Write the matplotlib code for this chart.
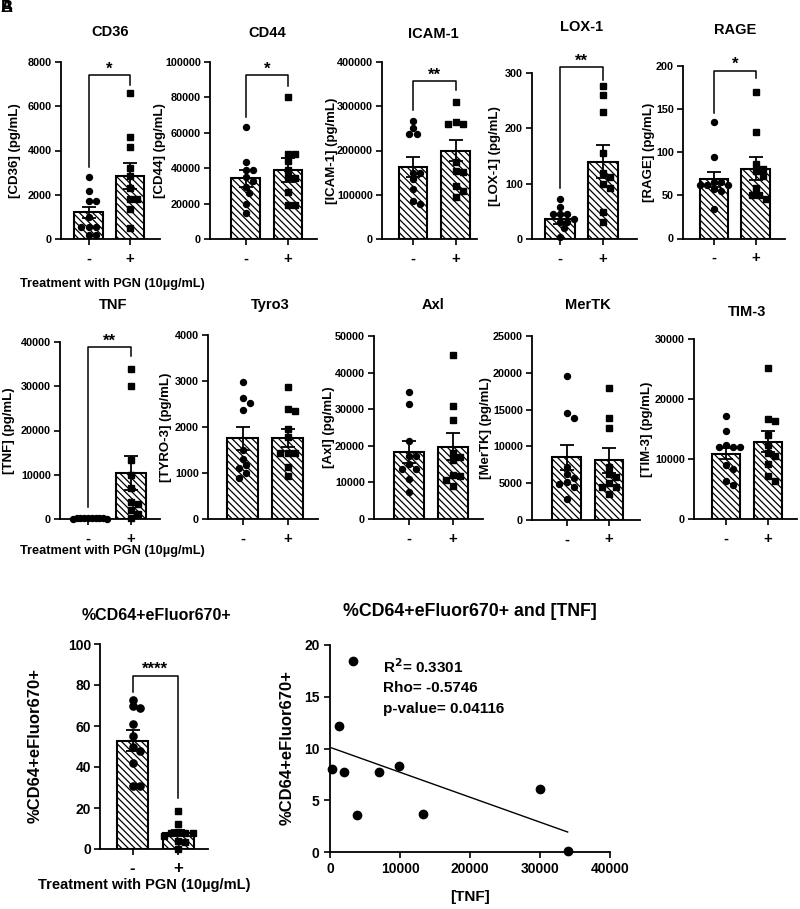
import numpy as np
import matplotlib
matplotlib.use('Agg')
import matplotlib.pyplot as plt

plt.rcParams['font.family'] = ['Liberation Sans Narrow', 'Liberation Sans', 'DejaVu Sans']
plt.rcParams['font.weight'] = 'bold'
plt.rcParams['hatch.linewidth'] = 0.9
plt.rcParams['axes.linewidth'] = 1.3

# ---- data ----
titles = ['CD36', 'CD44', 'ICAM-1', 'LOX-1', 'RAGE', 'TNF', 'Tyro3', 'Axl', 'MerTK', 'TIM-3']
ylabels = ['[CD36] (pg/mL)', '[CD44] (pg/mL)', '[ICAM-1] (pg/mL)', '[LOX-1] (pg/mL)', '[RAGE] (pg/mL)',
           '[TNF] (pg/mL)', '[TYRO-3] (pg/mL)', '[Axl] (pg/mL)', '[MerTK] (pg/mL)', '[TIM-3] (pg/mL)']
ymax = [8000, 100000, 400000, 300, 200, 40000, 4000, 50000, 25000, 30000]
ystep = [2000, 20000, 100000, 100, 50, 10000, 1000, 10000, 5000, 10000]

mean_neg = [1200, 34300, 163000, 36, 68.5, 150, 1754, 18300, 8500, 10900]
mean_pos = [2860, 39000, 200000, 140, 81, 10400, 1770, 19700, 8100, 12900]
sem_neg = [260, 4700, 23000, 9, 8.5, 30, 250, 3000, 1700, 900]
sem_pos = [580, 6600, 24000, 29, 13, 3850, 195, 3700, 1650, 1800]

tnf_pgn = [240, 1240, 1950, 3290, 3860, 7000, 9860, 13290, 30050, 33950]
cd64_pgn = [8.0, 12.2, 7.7, 18.5, 3.6, 7.7, 8.3, 3.7, 6.1, 0.1]

pts_neg = [
    [2790, 2170, 1730, 1730, 1000, 520, 520, 520, 200, 200],
    [63500, 43700, 39000, 39000, 35000, 29600, 26000, 20000, 14500, 33000],
    [267000, 250000, 237000, 237000, 150000, 150000, 135000, 114000, 87000, 79000],
    [72, 58, 45, 45, 45, 37, 30, 30, 19, 4],
    [135, 95, 65, 62, 62, 57, 55, 62, 34, 65],
    [200, 150, 120, 180, 100, 250, 160, 130, 90, 210],
    [2985, 2620, 2530, 2370, 1500, 1300, 1170, 1100, 990, 900],
    [34600, 31500, 21300, 17200, 17200, 15000, 13600, 13600, 11000, 7400],
    [19500, 14500, 13900, 7200, 6300, 5700, 5100, 4900, 4500, 2900],
    [17200, 14700, 12000, 12000, 12000, 12400, 9000, 8300, 6400, 5700],
]
pts_pos = [
    [6580, 4620, 4170, 3220, 2860, 2290, 1800, 1800, 1360, 510],
    [80400, 47800, 47800, 44000, 39000, 34300, 26700, 19200, 19200, 35000],
    [310000, 265000, 259000, 259000, 175000, 154000, 152000, 120000, 108000, 96000],
    [276, 260, 229, 155, 119, 112, 92, 49, 31, 100],
    [170, 124, 86, 81, 73, 58, 51, 46, 50, 78],
    tnf_pgn,
    [2860, 2400, 2350, 1950, 1775, 1440, 1440, 1440, 1140, 935],
    [44800, 30800, 27000, 17900, 17000, 16000, 11800, 10700, 8900, 12000],
    [18000, 13900, 12500, 7200, 6300, 5900, 4500, 4500, 3500, 5000],
    [25200, 16400, 16700, 14000, 12400, 11000, 9200, 6400, 7100, 10500],
]

sig_text = ['*', '*', '**', '**', '*', '**', '', '', '', '']
sig_top = [7400, 92700, 357000, 311, 194.6, 38800, 0, 0, 0, 0]
sig_left = [3270, 69000, 291000, 92, 145, 2800, 0, 0, 0, 0]
sig_right = [6960, 86600, 337000, 287, 186, 36800, 0, 0, 0, 0]

cd64_neg = [72.8, 69.6, 68.8, 61.1, 55, 50, 48, 42, 30.6, 30.6]
cd64_mean = [52.8, 7.8]
cd64_sem = [5.1, 1.7]

stats_lines = ['R$^\\mathbf{2}$= 0.3301', 'Rho= -0.5746', 'p-value= 0.04116']
treat_label = 'Treatment with PGN (10\u00b5g/mL)'

# ---- layout in pixels: spine x, bar0 x, bar1 x, axis end x, top y, bottom y, title x, title y, ylabel x
layout = [
    (61, 88.5, 130, 160, 62, 239, 110, 32, 15),
    (210, 245.5, 288, 317, 62, 239, 267, 33, 160),
    (382, 413, 455.5, 477, 62, 239, 433, 34, 332),
    (532, 560, 603, 637, 73, 239, 582, 27, 495),
    (683, 714, 755.5, 785, 66, 238.5, 735, 30, 649),
    (60, 88, 131, 160, 342, 519, 113, 305, 9),
    (208, 242.5, 287.5, 318, 335, 519, 270, 305, 166),
    (374, 409, 453, 483, 336, 519, 433, 305, 329),
    (532, 566.5, 609, 640, 336, 520, 588, 305, 486),
    (694, 726, 768, 797, 339, 519, 747, 312, 647),
]

W, H = 800, 909
fig = plt.figure(figsize=(8, 9.09), dpi=100)
HATCH = '\\' * 5


def swarm(vals, px_per_unit, d=6.5, lim=19):
    ys = np.asarray(vals, float) * px_per_unit
    xs = np.zeros(len(ys))
    done = []
    for i in np.argsort(-ys):
        c = 0.0
        for k in range(60):
            c = ((k + 1) // 2) * (1 if k % 2 else -1) * d * 0.55
            if all(np.hypot(c - xs[j], ys[i] - ys[j]) >= d for j in done):
                break
        xs[i] = c
        done.append(i)
    m = np.abs(xs).max()
    if m > lim:
        xs *= lim / m
    return xs


def bar_panel(spine, b0, b1, end, top, bottom, ymx, step, means, sems, neg, pos,
              tick_fs=7.8, ms=4.3, bar_w=0.68):
    ax = fig.add_axes([spine / W, 1 - bottom / H, (end - spine) / W, (bottom - top) / H])
    sp = b1 - b0
    ax.set_xlim((spine - b0) / sp, (end - b0) / sp)
    ax.set_ylim(0, ymx)
    ax.bar([0, 1], means, width=bar_w, color='white', edgecolor='black',
           hatch=HATCH, linewidth=1.5, zorder=2)
    ax.errorbar([0, 1], means, yerr=sems, fmt='none', ecolor='black',
                elinewidth=1.3, capsize=5, capthick=1.3, zorder=3)
    ppu = (bottom - top) / ymx
    ax.plot(swarm(neg, ppu) / sp, neg, 'o', ms=ms, color='black', zorder=4, clip_on=False)
    ax.plot(1 + swarm(pos, ppu) / sp, pos, 's', ms=ms * 0.9, color='black', zorder=4, clip_on=False)
    ticks = np.arange(0, ymx + step / 2, step)
    ax.set_yticks(ticks)
    ax.set_yticklabels(['%d' % t for t in ticks])
    ax.set_xticks([0, 1])
    ax.set_xticklabels(['-', '+'])
    ax.spines['top'].set_visible(False)
    ax.spines['right'].set_visible(False)
    ax.tick_params(axis='both', direction='out', length=4, width=1.2, labelsize=tick_fs, pad=2.5)
    ax.tick_params(axis='x', labelsize=tick_fs + 3, pad=5)
    return ax


def bracket(ax, text, top, left, right, fs=12):
    ax.plot([0, 0, 1, 1], [left, top, top, right], color='black', lw=1.1, clip_on=False, zorder=5)
    ax.annotate(text, (0.5, top), xytext=(0, -1), textcoords='offset points',
                ha='center', va='bottom', fontsize=fs, annotation_clip=False)


for i in range(10):
    spine, b0, b1, end, top, bottom, tx, ty, lx = layout[i]
    ax = bar_panel(spine, b0, b1, end, top, bottom, ymax[i], ystep[i],
                   [mean_neg[i], mean_pos[i]], [sem_neg[i], sem_pos[i]], pts_neg[i], pts_pos[i])
    if sig_text[i]:
        bracket(ax, sig_text[i], sig_top[i], sig_left[i], sig_right[i])
    fig.text(tx / W, 1 - ty / H, titles[i], ha='center', va='center', fontsize=10.5)
    fig.text(lx / W, 1 - (top + bottom) / 2 / H, ylabels[i], rotation=90,
             ha='center', va='center', fontsize=9.5)

fig.text(20 / W, 1 - 284 / H, treat_label, ha='left', va='center', fontsize=9.2)
fig.text(20 / W, 1 - 551 / H, treat_label, ha='left', va='center', fontsize=9.2)

# ---- %CD64+eFluor670+ bar panel
ax = bar_panel(100, 132.5, 178.3, 208, 644, 849, 100, 20, cd64_mean, cd64_sem,
               cd64_neg, cd64_pgn, tick_fs=10, ms=5.2)
ax.tick_params(axis='x', labelsize=12)
bracket(ax, '****', 84.5, 76.7, 24.7, fs=12)
fig.text(156 / W, 1 - 616 / H, '%CD64+eFluor670+', ha='center', va='center', fontsize=11.5)
fig.text(35 / W, 1 - 746 / H, '%CD64+eFluor670+', rotation=90, ha='center', va='center', fontsize=12)
fig.text(144 / W, 1 - 885 / H, treat_label, ha='center', va='center', fontsize=10.5)

# ---- scatter panel
ax = fig.add_axes([330 / W, 1 - 852 / H, 280 / W, 207 / H])
ax.set_xlim(0, 40000)
ax.set_ylim(0, 20)
ax.plot(tnf_pgn, cd64_pgn, 'o', ms=6, color='black', clip_on=False, zorder=3)
k, b = np.polyfit(tnf_pgn, cd64_pgn, 1)
xl = np.array([min(tnf_pgn), max(tnf_pgn)])
ax.plot(xl, k * xl + b, color='black', lw=1)
ax.set_xticks(np.arange(0, 40001, 10000))
ax.set_yticks(np.arange(0, 21, 5))
ax.spines['top'].set_visible(False)
ax.spines['right'].set_visible(False)
ax.tick_params(axis='both', direction='out', length=4, width=1.2, labelsize=10)
for j, line in enumerate(stats_lines):
    fig.text(383 / W, 1 - (667 + 21 * j) / H, line, ha='left', va='center', fontsize=11)
fig.text(470 / W, 1 - 612 / H, '%CD64+eFluor670+ and [TNF]', ha='center', va='center', fontsize=12.8)
fig.text(287 / W, 1 - 748 / H, '%CD64+eFluor670+', rotation=90, ha='center', va='center', fontsize=12)
fig.text(470 / W, 1 - 897 / H, '[TNF]', ha='center', va='center', fontsize=11)

# overlapped panel letters in the corner
fig.text(1 / W, 1 - 8 / H, 'A', ha='left', va='center', fontsize=12)
fig.text(1 / W, 1 - 8 / H, 'B', ha='left', va='center', fontsize=12)

fig.savefig('out.png', dpi=100)
